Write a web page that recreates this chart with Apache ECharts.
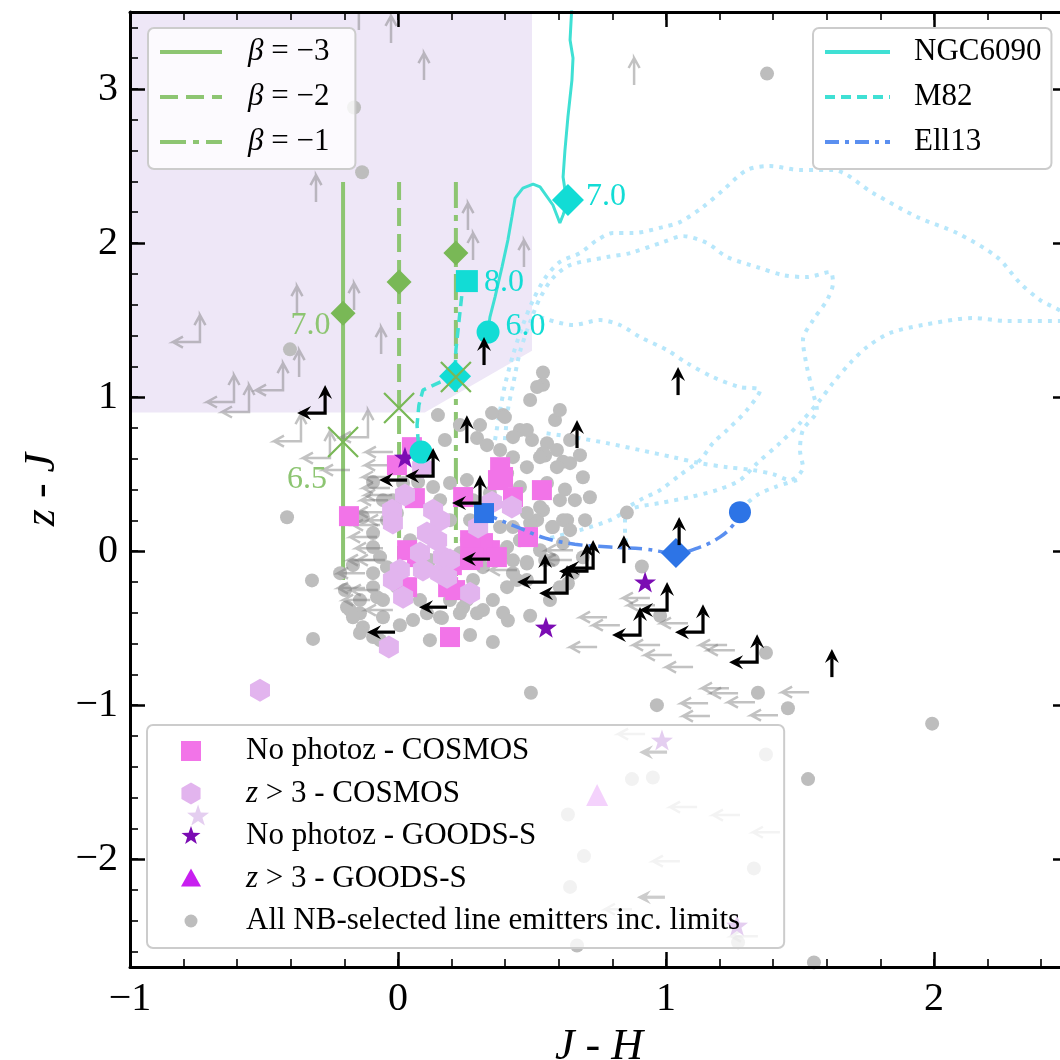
<!DOCTYPE html>
<html><head><meta charset="utf-8">
<script src="https://cdn.jsdelivr.net/npm/echarts@6/dist/echarts.min.js"></script>
<style>html,body{margin:0;padding:0;background:#fff}#c{width:1060px;height:1060px}</style>
</head><body><div id="c"></div><script>
// ---------------- DATA ----------------
const xTickValues = [-1, 0, 1, 2];
const yTickValues = [-2, -1, 0, 1, 2, 3];
const selectionBox = [[-1,3.5],[0.5,3.5],[0.5,1.3],[0.1,0.9],[-1,0.9]];

const grayDots = [[1.377,3.10],[-0.134,2.46],[-0.164,2.88],[-0.403,1.31],[-0.414,0.22],[-0.321,-0.19],[-0.317,-0.57],
[1.993,-1.12],[1.530,-1.48],[1.552,-2.67],[0.496,-0.92],[0.966,-1.0],[1.343,-0.92],[1.455,-1.02],
[0.854,0.25],[0.910,-0.10],[0.978,-0.42],[1.373,-0.66],[0.354,-0.59],[0.493,-0.42],[0.392,-0.40],[0.41,-0.45],
[0.716,0.35],[0.429,-0.06],[0.481,-0.08],[0.690,-0.04],[0.634,-0.21],[0.541,1.16],[0.541,1.08],[0.616,0.58],[0.690,0.48],
[0.556,0.70],[0.549,0.62],[0.623,0.40],
[1.373,-1.32],[0.873,-1.48],[0.951,-1.47],[0.634,-1.71],[0.694,-1.98],[0.642,-2.18],[1.328,-2.06],[0.668,-2.56],[1.269,-2.54],
[-0.216,-0.143],[-0.168,-0.091],[-0.179,-0.383],[-0.142,-0.403],[-0.131,-0.494],[-0.078,-0.299],[-0.056,-0.429],[0.056,-0.448],[0.164,-0.435],[0.243,-0.364],[0.317,-0.383],[0.444,-0.188],[0.481,-0.071],[0.392,-0.013],[0.519,0.201],[0.541,0.266],[0.575,0.156],[0.616,0.201],[0.541,0.636],[0.500,0.721],[0.455,0.786],[0.392,0.883],[0.351,0.896],[0.149,0.883],[0.519,1.065],[0.295,0.734],[0.332,0.688],[0.399,0.870],[0.429,0.740],[0.481,0.786],[0.257,0.461],[-0.093,0.448],[0.075,0.448],[-0.056,0.331],[-0.131,0.221],[-0.093,0.117],[-0.067,-0.039],[-0.093,-0.143],[-0.093,-0.234],[-0.056,-0.318],[-0.142,-0.318],[-0.142,-0.532],[0.157,-0.429],[0.231,-0.403],[0.295,-0.403],[0.257,-0.318],[0.354,-0.318],[0.407,-0.234],[0.429,-0.143],[0.481,-0.188],[0.567,-0.318],[0.604,-0.234],[0.653,-0.143],[0.578,-0.058],[0.530,0.006],[0.616,0.052],[0.578,0.156],[0.631,0.201],[0.604,0.331],[0.556,0.442],[0.593,0.545],[0.481,0.545],[0.429,0.610],[0.381,0.656],[0.530,0.610],[0.593,0.656],[0.642,0.571],[0.407,0.506],[0.455,0.416],[0.530,0.286],[0.493,0.182],[0.429,0.156],[0.407,0.026],[0.455,0.071],[0.381,0.156],[0.481,0.247],[0.343,0.377],[0.280,0.331],[0.194,0.442],[0.131,0.416],[0.019,0.442],[-0.019,0.331],[0.071,0.331],[0.157,0.331],[-0.004,0.247],[-0.041,0.201],[-0.093,0.026],[-0.041,-0.104],[-0.004,-0.234],[0.082,-0.318],[0.108,-0.403],[0.194,-0.318],[0.205,-0.234],[0.280,-0.188],[0.317,-0.104],[0.332,0.052],[0.257,0.071],[0.231,-0.013],[-0.190,-0.364],[-0.168,-0.429],[-0.093,-0.558],[0.194,0.201],[0.119,-0.058],[0.269,0.201],[0.045,0.071],
[0.586,0.851],[0.642,0.721],[0.679,0.623],[0.660,0.331],[0.698,0.201],[0.642,0.136],[0.549,-0.058],[0.269,-0.545],[0.119,-0.578],[0.007,-0.481],[-0.067,-0.578],[-0.198,-0.253],[0.306,0.818],[0.231,0.818],[0.175,0.721],[0.604,0.916],[0.493,0.981]];

const pinkSquares = [[-0.183,0.227],[0.052,0.675],[-0.004,0.558],[0.381,0.545],[0.373,0.461],[0.537,0.396],[0.243,0.351],[0.063,0.344],[0.485,0.091],[0.343,0.006],[0.034,0.006],[0.317,0.052],[0.187,-0.234],[0.034,-0.234],[0.201,-0.091],[0.269,-0.058],[0.194,-0.558],[0.392,0.481],[0.429,0.351],[0.269,0.071],[0.369,-0.039],[0.071,-0.039],[0.213,-0.253],[0.280,-0.039]];

const hexagons = [[0.026,0.364],[-0.022,0.266],[-0.019,0.182],[0.131,0.266],[0.157,0.201],[0.108,0.117],[0.082,-0.013],[0.146,0.071],[0.168,-0.039],[0.093,-0.123],[0.157,-0.143],[0.194,-0.058],[0.007,-0.123],[-0.019,-0.188],[0.019,-0.299],[0.183,-0.169],[0.269,-0.273],[0.299,0.156],[0.351,0.318],[0.425,0.286],[0.090,0.545],[-0.034,-0.623],[-0.515,-0.903]];

const stars = [[0.026,0.610],[0.922,-0.201],[0.552,-0.494],[0.985,-1.227],[-0.746,-1.714],[1.265,-2.429]];
const triangles = [[0.743,-1.584]];

const blackUp = [[0.321,1.208],[1.045,1.013],[0.668,0.669],[0.257,0.701],[0.843,-0.078],[1.049,0.039],[1.619,-0.818]];
const blackLeft = [[0.034,0.461],[0.343,-0.052],[0.183,-0.364],[-0.011,-0.526],[1.004,-1.305],[0.996,-2.247]];
const blackCorner = [[-0.272,0.896],[0.131,0.487],[0.306,0.312],[0.549,-0.201],[0.631,-0.273],[0.728,-0.110],[0.705,-0.130],[1.004,-0.383],[0.903,-0.545],[1.138,-0.526],[1.340,-0.721]];

const grayLeft = [[-0.019,0.643],[-0.179,0.526],[-0.030,0.481],[-0.030,0.409],[-0.037,0.331],[-0.049,0.253],[-0.078,0.091],[-0.123,-0.143],[-0.123,-0.240],[0.780,-0.429],[0.743,-0.623],[0.444,-0.123],[0.653,0.006],[0.649,-0.058],[0.940,-0.305],[0.959,-0.351],[0.828,-0.481],[0.978,-0.610],[1.022,-0.675],[1.082,-0.468],[1.228,-0.610],[1.257,-0.643],[1.101,-0.753],[1.235,-0.890],[1.269,-0.922],[1.332,-0.981],[1.157,-0.987],[1.164,-1.071],[1.418,-1.065],[1.534,-0.916],[0.922,-1.188],[1.116,-1.662],[1.276,-1.714],[1.425,-1.825],[1.052,-2.013],[0.873,-2.325],[1.343,-2.500],[-0.022,0.558],[-0.067,0.169],[-0.056,0.019],[-0.086,-0.058],[-0.104,-0.318],
[-0.022,0.364],[-0.049,-0.058],[-0.075,-0.253],[-0.019,-0.383],[-0.011,0.201]];
const grayUp = [[-0.146,3.383],[-0.026,3.299],[0.097,3.058],[-0.306,2.266],[0.261,2.084],[0.280,1.890],[0.470,1.844],[-0.377,1.545],[-0.164,1.565],[-0.063,1.279],[-0.369,1.130],[0.881,3.026]];
const grayCorner = [[-0.739,1.357],[-0.429,1.045],[-0.612,0.968],[-0.556,0.903],[-0.362,0.714],[-0.254,0.604],[-0.112,0.740]];

const beta3Line = [[-0.205,2.396],[-0.205,-0.188]];
const beta2Line = [[0.004,2.396],[0.004,-0.188]];
const beta1Line = [[0.216,2.396],[0.216,-0.188]];
const betaZ70 = [[-0.205,1.545,'7.0'],[0.004,1.747,''],[0.216,1.935,'']];
const betaZ65 = [[-0.205,0.708,'6.5'],[0.004,0.929,''],[0.216,1.130,'']];

const ngc6090 = [[0.649,3.545],[0.642,3.318],[0.653,3.201],[0.649,3.058],[0.634,2.818],[0.623,2.604],[0.616,2.429],[0.623,2.344],[0.634,2.279],[0.616,2.182],[0.604,2.130],[0.578,2.247],[0.530,2.364],[0.504,2.383],[0.466,2.357],[0.437,2.292],[0.425,2.169],[0.410,2.019],[0.388,1.844],[0.362,1.649],[0.343,1.519],[0.336,1.422]];
const m82 = [[0.257,1.753],[0.239,1.675],[0.228,1.500],[0.216,1.305],[0.213,1.136],[0.157,1.097],[0.093,1.045],[0.078,0.948],[0.071,0.818],[0.075,0.721],[0.086,0.643]];
const ell13 = [[0.321,0.247],[0.381,0.201],[0.455,0.149],[0.549,0.084],[0.660,0.045],[0.791,0.026],[0.922,0.013],[1.037,-0.013],[1.127,0.026],[1.201,0.091],[1.250,0.169],[1.276,0.253]];
const cyanDiamonds = [[0.634,2.279,'7.0'],[0.213,1.136,'']];
const cyanCircles = [[0.336,1.422,'6.0'],[0.086,0.643,'']];
const cyanSquares = [[0.257,1.753,'8.0']];
const blueSquares = [[0.321,0.247]];
const blueDiamonds = [[1.037,-0.013]];
const blueCircles = [[1.276,0.253]];

const contourA = [[0.399,0.721],[0.410,0.916],[0.429,1.078],[0.455,1.292],[0.493,1.487],[0.530,1.643],[0.578,1.773],[0.642,1.857],[0.780,1.909],[0.866,1.935],[0.989,2.006],[1.063,2.045],[1.153,2.000],[1.228,1.909],[1.340,1.844],[1.437,1.792],[1.526,1.779],[1.612,1.812],[1.623,1.740],[1.601,1.630],[1.549,1.500],[1.511,1.370],[1.526,1.195],[1.549,1.026],[1.563,0.916],[1.511,0.786],[1.500,0.656],[1.511,0.545],[1.463,0.461],[1.399,0.500],[1.325,0.526],[1.228,0.545],[1.127,0.571],[1.026,0.610],[0.903,0.656],[0.780,0.701],[0.653,0.740],[0.549,0.766]];
const contourA2 = [[1.489,0.461],[1.407,0.416],[1.340,0.364],[1.287,0.286]];
const contourB = [[0.362,0.721],[0.381,0.916],[0.399,1.078],[0.429,1.273],[0.466,1.468],[0.504,1.630],[0.549,1.773],[0.604,1.877],[0.679,1.935],[0.743,2.019],[0.802,2.065],[0.877,2.065],[0.989,2.104],[1.052,2.136],[1.138,2.234],[1.213,2.344],[1.302,2.474],[1.388,2.500],[1.500,2.474],[1.623,2.474],[1.772,2.325],[1.937,2.169],[2.086,2.065],[2.235,1.909],[2.321,1.740],[2.396,1.630],[2.489,1.526],[2.489,1.494],[2.272,1.494],[2.146,1.513],[1.959,1.468],[1.836,1.416],[1.750,1.325],[1.687,1.221],[1.623,1.091],[1.575,0.981],[1.500,0.831],[1.425,0.701],[1.340,0.571],[1.276,0.461],[1.190,0.396],[1.090,0.351],[0.978,0.312],[0.877,0.279],[0.791,0.201],[0.679,0.136],[0.567,0.084]];
const contourLobe = [[0.530,1.519],[0.653,1.468],[0.754,1.500],[0.828,1.468],[0.903,1.390],[1.004,1.305],[1.078,1.221],[1.175,1.130],[1.276,1.065],[1.351,1.045],[1.302,0.916],[1.228,0.786],[1.175,0.701],[1.127,0.591],[1.052,0.494],[0.978,0.396],[0.903,0.331],[0.847,0.253],[0.847,0.104],[0.858,0.019]];
const zLabelPos = [[1.015,1.545]];

// ---------------- STYLE ----------------
const FONT = 'Liberation Serif';
const GREEN_L = '#8dc572', GREEN_M = '#79b856';
const CYAN_L = '#3fe0d4', CYAN_M = '#12dcd5';
const BLUE_L = '#5a8ff0', BLUE_M = '#2d74e6';
const PINK = '#f274e8', HEX = '#e2b4ee', STAR = '#7b0cb3', TRI = '#c81ff0', GRAY = '#bdbdbd';
const CONT = '#b7e7fb';
const HEX_PATH = 'path://M0,-11.5L10,-5.75L10,5.75L0,11.5L-10,5.75L-10,-5.75Z';
const STAR_PATH = 'path://M0,-10L2.35,-3.24L9.51,-3.09L3.80,1.24L5.88,8.09L0,4L-5.88,8.09L-3.80,1.24L-9.51,-3.09L-2.35,-3.24Z';
const X_PATH = 'path://M-10,-10L10,10M10,-10L-10,10';
const fmtTick = v => v < 0 ? '\u2212' + Math.abs(v) : String(v);

function arrowSeries(name, data, color, width, kind, z, filled) {
  return {
    type: 'custom', name, data, z, silent: true, clip: true,
    encode: {x: 0, y: 1},
    renderItem(params, api) {
      const p = api.coord([api.value(0), api.value(1)]);
      const L = 27;
      if (!filled) {
        const h = 10, w = 5.5;
        const up = [[p[0]-w, p[1]-L+h],[p[0], p[1]-L],[p[0]+w, p[1]-L+h],[p[0], p[1]-L]];
        const left = [[p[0]-L, p[1]],[p[0]-L+h, p[1]-w],[p[0]-L, p[1]],[p[0]-L+h, p[1]+w]];
        let pts;
        if (kind === 'up') pts = up.concat([p]);
        else if (kind === 'left') pts = [p].concat(left);
        else pts = up.concat([p]).concat(left);
        return {type: 'polyline', shape: {points: pts}, style: {stroke: color, lineWidth: width, fill: null, lineJoin: 'miter'}};
      }
      const h = 13, w = 7, n = 8;
      const children = [];
      const shaft = [];
      if (kind !== 'left') {
        children.push({type: 'polygon', shape: {points: [[p[0], p[1]-L-1],[p[0]+w, p[1]-L+h],[p[0], p[1]-L+n],[p[0]-w, p[1]-L+h]]}, style: {fill: color}});
        shaft.push([p[0], p[1]-L+n]);
      }
      shaft.push([p[0], p[1]]);
      if (kind !== 'up') {
        children.push({type: 'polygon', shape: {points: [[p[0]-L-1, p[1]],[p[0]-L+h, p[1]-w],[p[0]-L+n, p[1]],[p[0]-L+h, p[1]+w]]}, style: {fill: color}});
        shaft.push([p[0]-L+n, p[1]]);
      }
      children.push({type: 'polyline', shape: {points: shaft}, style: {stroke: color, lineWidth: width, fill: null, lineJoin: 'miter'}});
      return {type: 'group', children};
    }
  };
}

const chart = echarts.init(document.getElementById('c'), null, {renderer: 'canvas'});
const axisBase = {type: 'value', splitLine: {show: false}, axisLine: {show: false, onZero: false}, axisLabel: {show: false}, axisTick: {show: false}, z: 30};
const majorTick = {show: true, inside: true, length: 15, lineStyle: {color: '#000', width: 2.5}};
const minorTickS = {show: true, inside: true, length: 8, lineStyle: {color: '#000', width: 1.6}};
const frameLine = {show: true, onZero: false, lineStyle: {color: '#000', width: 3}};
const xr = {min: -1, max: 2.5};
const yr = {min: -2.7, max: 3.5};
const nameStyle = {fontFamily: FONT, fontSize: 44, color: '#000', rich: {i: {fontFamily: FONT, fontSize: 44, fontStyle: 'italic', color: '#000'}}};
const dotted = {color: CONT, width: 4, type: [4, 6], cap: 'butt'};

const option = {
  animation: false,
  backgroundColor: '#fff',
  grid: {left: 130, top: 12, width: 938, height: 955, show: false, containLabel: false, outerBoundsMode: 'none'},
  xAxis: [
    Object.assign({}, axisBase, xr, {position: 'bottom', interval: 1, axisLine: frameLine, axisTick: majorTick,
      axisLabel: {show: true, formatter: fmtTick, fontFamily: FONT, fontSize: 40, color: '#000', margin: 12, showMaxLabel: false},
      name: '{i|J} - {i|H}', nameLocation: 'middle', nameGap: 58, nameTextStyle: nameStyle}),
    Object.assign({}, axisBase, xr, {position: 'bottom', interval: 0.2, axisTick: minorTickS}),
    Object.assign({}, axisBase, xr, {position: 'top', interval: 1, axisLine: frameLine, axisTick: majorTick}),
    Object.assign({}, axisBase, xr, {position: 'top', interval: 0.2, axisTick: minorTickS})
  ],
  yAxis: [
    Object.assign({}, axisBase, yr, {position: 'left', splitNumber: 6, axisLine: frameLine, axisTick: majorTick,
      axisLabel: {show: true, formatter: fmtTick, fontFamily: FONT, fontSize: 40, color: '#000', margin: 12, showMinLabel: false, showMaxLabel: false},
      name: '{i|z} - {i|J}', nameLocation: 'middle', nameGap: 62, nameTextStyle: nameStyle}),
    Object.assign({}, axisBase, yr, {position: 'left', splitNumber: 31, axisTick: minorTickS}),
    Object.assign({}, axisBase, yr, {position: 'right', splitNumber: 6, axisLine: frameLine, axisTick: majorTick}),
    Object.assign({}, axisBase, yr, {position: 'right', splitNumber: 31, axisTick: minorTickS})
  ],
  legend: [
    {orient: 'vertical', left: 148, top: 28, z: 40, selectedMode: false,
      data: ['β = −3', 'β = −2', 'β = −1'],
      itemWidth: 62, itemHeight: 20, itemGap: 11, padding: [7, 26, 10, 10],
      backgroundColor: 'rgba(255,255,255,0.8)', borderColor: '#cccccc', borderWidth: 2, borderRadius: 6,
      lineStyle: {width: 4}, itemStyle: {opacity: 0},
      formatter: n => '{s|}' + n.replace('β', '{i|β}'),
      textStyle: {fontFamily: FONT, fontSize: 31, color: '#000', lineHeight: 34,
        rich: {i: {fontFamily: FONT, fontSize: 31, fontStyle: 'italic', color: '#000'}, s: {width: 21}}}},
    {orient: 'vertical', left: 813, top: 28, z: 40, selectedMode: false,
      data: ['NGC6090', 'M82', 'Ell13'],
      itemWidth: 65, itemHeight: 20, itemGap: 11, padding: [7, 10, 10, 10],
      backgroundColor: 'rgba(255,255,255,0.8)', borderColor: '#cccccc', borderWidth: 2, borderRadius: 6,
      lineStyle: {width: 4}, itemStyle: {opacity: 0},
      formatter: n => '{s|}' + n,
      textStyle: {fontFamily: FONT, fontSize: 31, color: '#000', lineHeight: 34, rich: {s: {width: 19}}}},
    {orient: 'vertical', left: 147, top: 725, z: 40, selectedMode: false,
      data: [
        {name: 'No photoz - COSMOS', icon: 'path://M-11,-11M11,11M-10,-10L10,-10L10,10L-10,10Z'},
        {name: 'z > 3 - COSMOS', icon: HEX_PATH},
        {name: 'No photoz - GOODS-S', icon: 'path://M-11,-11M11,11M0,-10L2.35,-3.24L9.51,-3.09L3.80,1.24L5.88,8.09L0,4L-5.88,8.09L-3.80,1.24L-9.51,-3.09L-2.35,-3.24Z'},
        {name: 'z > 3 - GOODS-S', icon: 'path://M-11,-11M11,11M0,-10L10,8L-10,8Z'},
        {name: 'All NB-selected line emitters inc. limits', icon: 'path://M-11,-11M11,11M-6.5,0A6.5,6.5,0,1,1,6.5,0A6.5,6.5,0,1,1,-6.5,0Z'}
      ],
      itemWidth: 40, itemHeight: 22, itemGap: 8.5, padding: [9, 44, 10, 33],
      backgroundColor: 'rgba(255,255,255,0.8)', borderColor: '#cccccc', borderWidth: 2, borderRadius: 6,
      formatter: n => '{s|}' + n.replace('z > 3', '{i|z} > 3'),
      textStyle: {fontFamily: FONT, fontSize: 31, color: '#000', lineHeight: 34,
        rich: {i: {fontFamily: FONT, fontSize: 31, fontStyle: 'italic', color: '#000'}, s: {width: 30}}}}
  ],
  series: [
    {type: 'custom', name: 'selection', z: 1, silent: true, data: selectionBox, encode: {x: 0, y: 1},
      renderItem(params, api) {
        if (params.dataIndex !== 0) return null;
        return {type: 'polygon', shape: {points: selectionBox.map(p => api.coord(p))}, style: {fill: '#eee7f7'}};
      }},
    {type: 'line', name: 'contourA', data: contourA, z: 2, symbol: 'none', smooth: 0.3, silent: true, lineStyle: dotted},
    {type: 'line', name: 'contourA2', data: contourA2, z: 2, symbol: 'none', smooth: 0.3, silent: true, lineStyle: dotted},
    {type: 'line', name: 'contourB', data: contourB, z: 2, symbol: 'none', smooth: 0.3, silent: true, lineStyle: dotted},
    {type: 'line', name: 'contourLobe', data: contourLobe, z: 2, symbol: 'none', smooth: 0.3, silent: true, lineStyle: dotted},
    {type: 'scatter', name: 'zlabel', data: zLabelPos, z: 2, symbol: 'none', silent: true,
      label: {show: true, position: 'inside', formatter: '{i|z} < 6', fontFamily: FONT, fontSize: 34, color: CONT,
        rich: {i: {fontFamily: FONT, fontSize: 34, fontStyle: 'italic', color: CONT}}}},
    {type: 'line', name: 'β = −3', data: beta3Line, z: 3, symbol: 'none', silent: true, lineStyle: {color: GREEN_L, width: 4, type: 'solid'}, itemStyle: {color: GREEN_L}},
    {type: 'line', name: 'β = −2', data: beta2Line, z: 3, symbol: 'none', silent: true, lineStyle: {color: GREEN_L, width: 4, type: [18, 8]}, itemStyle: {color: GREEN_L}},
    {type: 'line', name: 'β = −1', data: beta1Line, z: 3, symbol: 'none', silent: true, lineStyle: {color: GREEN_L, width: 4, type: [26, 7, 6, 7]}, itemStyle: {color: GREEN_L}},
    {type: 'scatter', name: 'All NB-selected line emitters inc. limits', data: grayDots, z: 4, symbol: 'circle', symbolSize: 14, itemStyle: {color: GRAY, opacity: 1}, silent: true},
    arrowSeries('grayLeft', grayLeft, 'rgba(120,120,120,0.45)', 2.5, 'left', 5, false),
    arrowSeries('grayUp', grayUp, 'rgba(120,120,120,0.45)', 2.5, 'up', 5, false),
    arrowSeries('grayCorner', grayCorner, 'rgba(120,120,120,0.45)', 2.5, 'corner', 5, false),
    {type: 'scatter', name: 'No photoz - COSMOS', data: pinkSquares, z: 6, symbol: 'rect', symbolSize: 20, itemStyle: {color: PINK, opacity: 1}, silent: true},
    {type: 'scatter', name: 'z > 3 - COSMOS', data: hexagons, z: 7, symbol: HEX_PATH, symbolSize: [20, 23], itemStyle: {color: HEX, opacity: 1}, silent: true},
    {type: 'scatter', name: 'No photoz - GOODS-S', data: stars, z: 8, symbol: STAR_PATH, symbolSize: [22, 21], itemStyle: {color: STAR, opacity: 1}, silent: true},
    {type: 'scatter', name: 'z > 3 - GOODS-S', data: triangles, z: 8, symbol: 'triangle', symbolSize: 22, itemStyle: {color: TRI, opacity: 1}, silent: true},
    {type: 'line', name: 'NGC6090', data: ngc6090, z: 9, symbol: 'none', silent: true, lineStyle: {color: CYAN_L, width: 3}, itemStyle: {color: CYAN_L}},
    {type: 'line', name: 'M82', data: m82, z: 9, symbol: 'none', silent: true, lineStyle: {color: CYAN_L, width: 3.5, type: [10, 6]}, itemStyle: {color: CYAN_L}},
    {type: 'line', name: 'Ell13', data: ell13, z: 9, symbol: 'none', smooth: 0.4, silent: true, lineStyle: {color: BLUE_L, width: 3.5, type: [14, 6, 4, 6]}, itemStyle: {color: BLUE_L}},
    {type: 'scatter', name: 'cyanDiamonds', data: cyanDiamonds, z: 10, symbol: 'diamond', symbolSize: 32, itemStyle: {color: CYAN_M, opacity: 1}, silent: true,
      label: {show: true, position: 'right', distance: 2, offset: [0, -3], formatter: p => p.value[2], fontFamily: FONT, fontSize: 32, color: CYAN_M}},
    {type: 'scatter', name: 'cyanCircles', data: cyanCircles, z: 10, symbol: 'circle', symbolSize: 23, itemStyle: {color: CYAN_M, opacity: 1}, silent: true,
      label: {show: true, position: 'right', distance: 6, offset: [0, -5], formatter: p => p.value[2], fontFamily: FONT, fontSize: 32, color: CYAN_M}},
    {type: 'scatter', name: 'cyanSquares', data: cyanSquares, z: 10, symbol: 'rect', symbolSize: 22, itemStyle: {color: CYAN_M, opacity: 1}, silent: true,
      label: {show: true, position: 'right', distance: 6, offset: [0, 1], formatter: p => p.value[2], fontFamily: FONT, fontSize: 32, color: CYAN_M}},
    {type: 'scatter', name: 'blueSquares', data: blueSquares, z: 10, symbol: 'rect', symbolSize: 20, itemStyle: {color: BLUE_M, opacity: 1}, silent: true},
    {type: 'scatter', name: 'blueDiamonds', data: blueDiamonds, z: 10, symbol: 'diamond', symbolSize: 30, itemStyle: {color: BLUE_M, opacity: 1}, silent: true},
    {type: 'scatter', name: 'blueCircles', data: blueCircles, z: 10, symbol: 'circle', symbolSize: 22, itemStyle: {color: BLUE_M, opacity: 1}, silent: true},
    {type: 'scatter', name: 'greenDiamonds', data: betaZ70, z: 11, symbol: 'diamond', symbolSize: 25, itemStyle: {color: GREEN_M, opacity: 1}, silent: true,
      label: {show: true, position: 'left', distance: 0, offset: [0, 12], formatter: p => p.value[2], fontFamily: FONT, fontSize: 32, color: GREEN_L}},
    {type: 'scatter', name: 'greenX', data: betaZ65, z: 11, symbol: X_PATH, symbolSize: 30, itemStyle: {color: 'rgba(0,0,0,0)', borderColor: GREEN_M, borderWidth: 2.2, opacity: 1}, silent: true,
      label: {show: true, position: 'left', distance: 0, offset: [0, 38], formatter: p => p.value[2], fontFamily: FONT, fontSize: 32, color: GREEN_L}},
    arrowSeries('blackLeft', blackLeft, '#000', 3.2, 'left', 12, true),
    arrowSeries('blackUp', blackUp, '#000', 3.2, 'up', 12, true),
    arrowSeries('blackCorner', blackCorner, '#000', 3.2, 'corner', 12, true)
  ]
};
chart.setOption(option);
</script></body></html>
